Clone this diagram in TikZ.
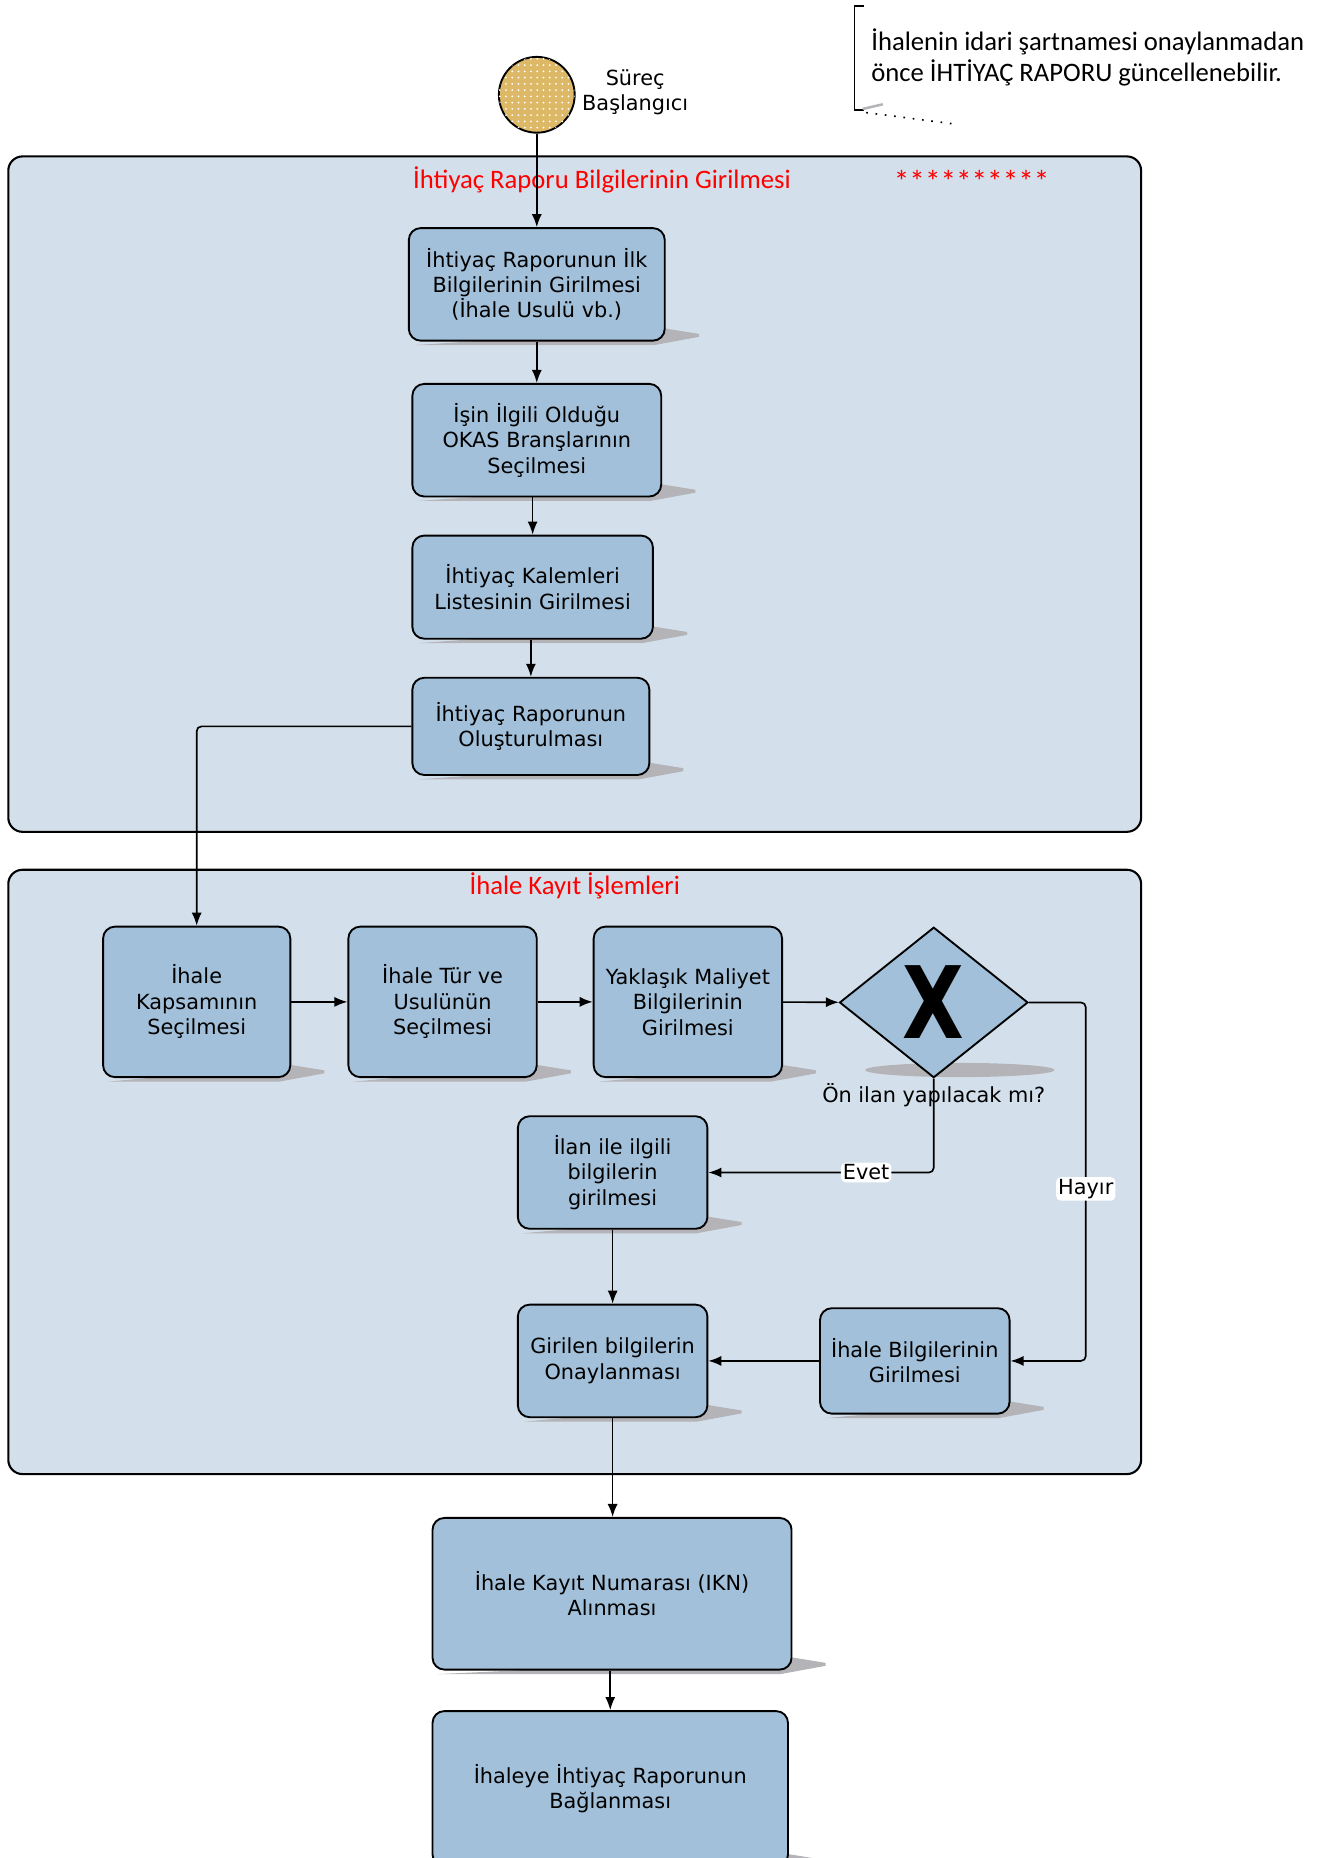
\documentclass[tikz,border=0pt]{standalone}
\usepackage{fontspec}
\setmainfont{DejaVu Sans}
\newfontfamily\notefont{Carlito}
\usetikzlibrary{arrows.meta,shapes.geometric,patterns,calc}
\pgfdeclarelayer{pool}
\pgfdeclarelayer{shade}
\pgfsetlayers{pool,shade,main}
\definecolor{taskblue}{RGB}{162,192,217}
\definecolor{poolblue}{RGB}{211,224,235}
\definecolor{startgold}{RGB}{221,184,102}
\definecolor{shadegray}{RGB}{180,180,184}

\begin{document}
\begin{tikzpicture}[
  >={Latex[length=2.2mm,width=1.7mm]},
  every node/.style={font=\fontsize{10}{12.2}\selectfont},
  task/.style={draw, line width=0.9pt, rounded corners=0.2cm, fill=taskblue, align=center, inner sep=2pt},
  pool/.style={draw, line width=1pt, rounded corners=0.24cm, fill=poolblue},
  pooltitle/.style={text=red, font=\notefont\fontsize{12.8}{15}\selectfont},
  flow/.style={->, line width=0.8pt, rounded corners=0.08cm},
  lbl/.style={fill=white, inner sep=1pt}
]
  \useasboundingbox (0,0) rectangle (22.44,-31.36);

  \begin{pgfonlayer}{pool}
    \draw [pool] (0.14,-2.64) rectangle (19.26,-14.04);
    \draw [pool] (0.14,-14.68) rectangle (19.26,-24.88);
  \end{pgfonlayer}

  \node [pooltitle] (baslik1) at (10.16,-3.04) {İhtiyaç Raporu Bilgilerinin Girilmesi};
  \node [pooltitle, font=\notefont\fontsize{15}{15}\selectfont] (yildiz) at (16.4,-3.06) {**********};
  \node [pooltitle] (baslik2) at (9.7,-14.96) {İhale Kayıt İşlemleri};

  \node [circle, draw, line width=0.9pt, fill=startgold, postaction={pattern=dots, pattern color=white}, minimum size=1.28cm, inner sep=0] (start) at (9.06,-1.6) {};
  \node [align=center] (startlbl) at (10.72,-1.56) {Süreç\\Başlangıcı};

  \node [anchor=west, align=left, inner sep=0, font=\notefont\fontsize{12.8}{15.3}\selectfont] (note) at (14.7,-0.97) {İhalenin idari şartnamesi onaylanmadan\\önce İHTİYAÇ RAPORU güncellenebilir.};
  \draw [line width=0.8pt] (14.58,-0.1) -- (14.42,-0.1) -- (14.42,-1.86) -- (14.58,-1.86);
  \draw [shadegray, line width=1.2pt] (14.56,-1.84) -- (14.9,-1.76);
  \coordinate (noteend) at (16.16,-2.1);
  \draw [line width=0.8pt, dash pattern=on 0.8pt off 3.7pt] (14.62,-1.9) -- (noteend);

  \node [task, minimum width=4.32cm, minimum height=1.9cm] (ilk) at (9.06,-4.8) {İhtiyaç Raporunun İlk\\Bilgilerinin Girilmesi\\(İhale Usulü vb.)};
  \node [task, minimum width=4.2cm, minimum height=1.9cm] (okas) at (9.06,-7.43) {İşin İlgili Olduğu\\OKAS Branşlarının\\Seçilmesi};
  \node [task, minimum width=4.06cm, minimum height=1.74cm] (kalem) at (8.99,-9.91) {İhtiyaç Kalemleri\\Listesinin Girilmesi};
  \node [task, minimum width=4cm, minimum height=1.64cm] (olustur) at (8.96,-12.26) {İhtiyaç Raporunun\\Oluşturulması};

  \node [task, minimum width=3.16cm, minimum height=2.54cm] (kapsam) at (3.32,-16.91) {İhale\\Kapsamının\\Seçilmesi};
  \node [task, minimum width=3.18cm, minimum height=2.54cm] (tur) at (7.47,-16.91) {İhale Tür ve\\Usulünün\\Seçilmesi};
  \node [task, minimum width=3.18cm, minimum height=2.54cm] (maliyet) at (11.61,-16.91) {Yaklaşık Maliyet\\Bilgilerinin\\Girilmesi};
  \node [diamond, draw, line width=0.9pt, fill=taskblue, minimum width=3.18cm, minimum height=2.54cm, inner sep=0] (karar) at (15.76,-16.92) {};
  \node [font=\fontsize{48}{48}\selectfont\bfseries, xscale=0.8] (kararx) at (karar) {X};
  \node (soru) at (15.76,-18.48) {Ön ilan yapılacak mı?};

  \node [task, minimum width=3.2cm, minimum height=1.9cm] (ilan) at (10.34,-19.79) {İlan ile ilgili\\bilgilerin\\girilmesi};
  \node [task, minimum width=3.2cm, minimum height=1.9cm] (onay) at (10.34,-22.97) {Girilen bilgilerin\\Onaylanması};
  \node [task, minimum width=3.2cm, minimum height=1.78cm] (bilgi) at (15.44,-22.97) {İhale Bilgilerinin\\Girilmesi};

  \node [task, minimum width=6.06cm, minimum height=2.56cm] (ikn) at (10.33,-26.9) {İhale Kayıt Numarası (IKN)\\Alınması};
  \node [task, minimum width=6cm, minimum height=2.62cm] (bagla) at (10.3,-30.19) {İhaleye İhtiyaç Raporunun\\Bağlanması};

  \begin{pgfonlayer}{shade}
    \foreach \n in {ilk,okas,kalem,olustur,kapsam,tur,maliyet,ilan,onay,bilgi,ikn,bagla}
      \fill [shadegray] ($(\n.south west)+(0.1,-0.06)$) -- ($(\n.south east)+(-0.2,-0.06)$) -- ($(\n.south east)+(0.56,0.08)$) -- ($(\n.south east)+(0.56,0.13)$) -- ($(\n.south east)+(0,0.22)$) -- cycle;
    \fill [shadegray] (16.2,-18.06) ellipse (1.6 and 0.12);
  \end{pgfonlayer}

  \draw [flow] (start) -- (ilk);
  \draw [flow] (ilk) -- (okas);
  \draw [flow] (kalem.north |- okas.south) -- (kalem.north);
  \draw [flow] (olustur.north |- kalem.south) -- (olustur.north);
  \draw [flow] (olustur.west) -| (kapsam.north);
  \draw [flow] (kapsam) -- (tur);
  \draw [flow] (tur) -- (maliyet);
  \draw [flow] (maliyet) -- (karar);
  \draw [flow] (karar.south) |- node [lbl, pos=0.65] {Evet} (ilan.east);
  \draw [flow] (karar.east) -- ++(0.96,0) |- node [lbl, pos=0.26] {Hayır} (bilgi.east);
  \draw [flow] (ilan) -- (onay);
  \draw [flow] (bilgi) -- (onay);
  \draw [flow] (onay.south) -- (onay.south |- ikn.north);
  \draw [flow] (bagla.north |- ikn.south) -- (bagla.north);
\end{tikzpicture}
\end{document}
